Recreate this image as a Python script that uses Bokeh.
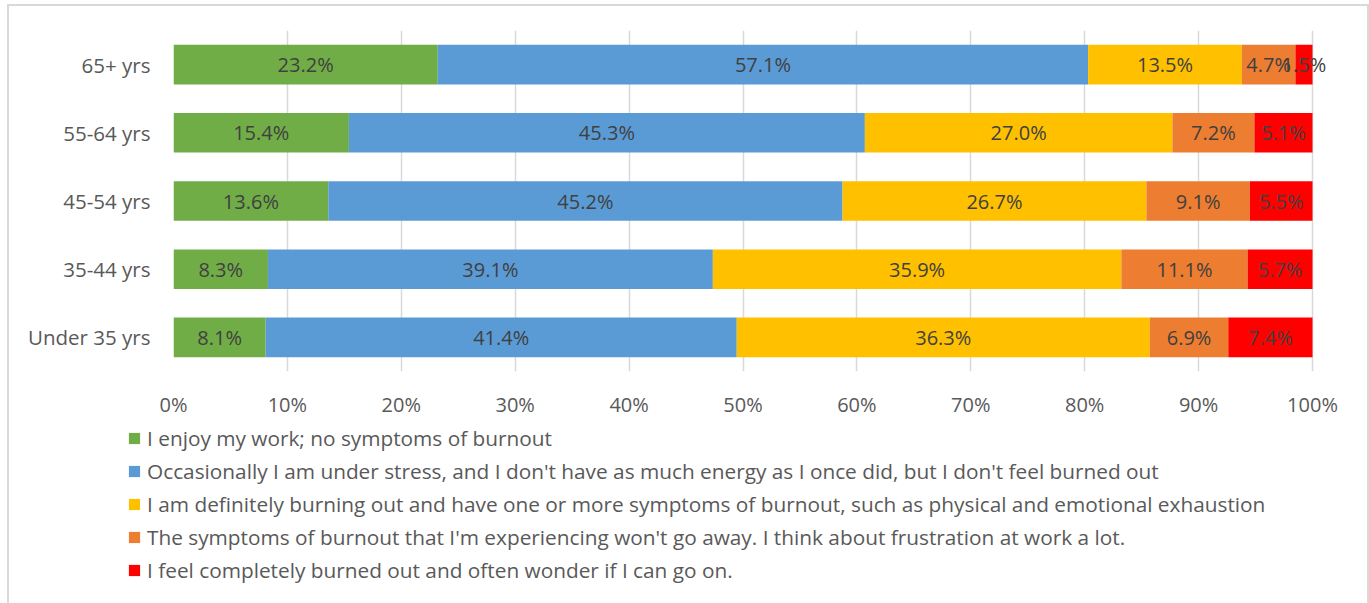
from bokeh.plotting import figure
from bokeh.layouts import column
from bokeh.models import (ColumnDataSource, FactorRange, Range1d, FixedTicker,
                          Legend, LegendItem, PrintfTickFormatter)
from bokeh.core.properties import value
from bokeh.embed import file_html
from bokeh.resources import INLINE

categories = ["Under 35 yrs", "35-44 yrs", "45-54 yrs", "55-64 yrs", "65+ yrs"]
series_names = [
    "I enjoy my work; no symptoms of burnout",
    "Occasionally I am under stress, and I don't have as much energy as I once did, but I don't feel burned out",
    "I am definitely burning out and have one or more symptoms of burnout, such as physical and emotional exhaustion",
    "The symptoms of burnout that I'm experiencing won't go away. I think about frustration at work a lot.",
    "I feel completely burned out and often wonder if I can go on.",
]
enjoy = [8.1, 8.3, 13.6, 15.4, 23.2]
occasional = [41.4, 39.1, 45.2, 45.3, 57.1]
definitely = [36.3, 35.9, 26.7, 27.0, 13.5]
persistent = [6.9, 11.1, 9.1, 7.2, 4.7]
completely = [7.4, 5.7, 5.5, 5.1, 1.5]
x_ticks = [0, 10, 20, 30, 40, 50, 60, 70, 80, 90, 100]

series = [enjoy, occasional, definitely, persistent, completely]
keys = ["s0", "s1", "s2", "s3", "s4"]
colors = ["#70AD47", "#5B9BD5", "#FFC000", "#ED7D31", "#FF0000"]

FONT = "Open Sans"
FS = "20px"
W = 1358
H1, H2 = 414, 183
LEFT, RIGHT, TOP, BOTTOM = 164, 27, 24, 42
frame_w = W - LEFT - RIGHT
x_end = 100.0 * frame_w / (1312 - 173)

totals = [sum(s[i] for s in series) for i in range(len(categories))]
data = {"cat": categories}
for k, s in zip(keys, series):
    data[k] = [v / t * 100 for v, t in zip(s, totals)]
source = ColumnDataSource(data)

p = figure(width=W, height=H1, y_range=FactorRange(*categories),
           x_range=Range1d(0, x_end), output_backend="svg",
           toolbar_location=None, min_border_left=LEFT, min_border_right=RIGHT,
           min_border_top=TOP, min_border_bottom=BOTTOM)
p.outline_line_color = None
p.background_fill_color = "white"
p.border_fill_color = "white"

p.hbar_stack(keys, y="cat", height=0.58, color=colors, line_color=None, source=source)

# data labels
lx, ly, lt = [], [], []
for i, c in enumerate(categories):
    cum = 0.0
    for k, s in zip(keys, series):
        w = data[k][i]
        lx.append(cum + w / 2)
        ly.append(c)
        lt.append("%.1f%%" % s[i])
        cum += w
p.text(x=lx, y=ly, text=lt, text_align="center", text_baseline="middle",
       text_font=value(FONT), text_font_size=FS, text_color="#404040")

p.xaxis.ticker = FixedTicker(ticks=x_ticks)
p.xaxis.formatter = PrintfTickFormatter(format="%d%%")
p.xaxis.axis_line_color = None
p.xaxis.major_tick_line_color = None
p.xaxis.minor_tick_line_color = None
p.xaxis.major_label_standoff = 13
p.xaxis.major_label_text_font = FONT
p.xaxis.major_label_text_font_size = FS
p.xaxis.major_label_text_color = "#595959"

p.yaxis.axis_line_color = None
p.yaxis.major_tick_line_color = None
p.yaxis.minor_tick_line_color = None
p.yaxis.major_label_standoff = 17
p.yaxis.major_label_text_font = FONT
p.yaxis.major_label_text_font_size = "20.5px"
p.yaxis.major_label_text_color = "#595959"

p.xgrid.grid_line_color = "#D9D9D9"
p.xgrid.grid_line_width = 1.5
p.ygrid.grid_line_color = None

# legend panel: same series (zero-height bars, out of view) so only the legend shows
p2 = figure(width=W, height=H2, y_range=FactorRange(*categories),
            x_range=Range1d(-200, -100), output_backend="svg",
            toolbar_location=None, x_axis_location=None, y_axis_location=None,
            min_border=0)
p2.outline_line_color = None
p2.grid.grid_line_color = None
p2.border_fill_color = "white"
leg_r = p2.hbar_stack(keys, y="cat", height=0, color=colors, line_color=None, source=source)

if "frame_align" in p.properties():
    p.frame_align = False
    p2.frame_align = False

items = [LegendItem(label=n, renderers=[r]) for n, r in zip(series_names, leg_r)]
legend = Legend(items=items, location=(118, 19), orientation="vertical",
                glyph_width=14, glyph_height=14, label_standoff=6,
                label_height=28, spacing=5, padding=0, margin=0,
                label_text_font=FONT, label_text_font_size="20.8px",
                label_text_color="#595959", background_fill_alpha=0,
                border_line_color=None)
p2.add_layout(legend, "center")

layout = column(p, p2, spacing=0,
                styles={"margin-left": "7px", "margin-top": "4px",
                        "border-left": "2px solid #D9D9D9",
                        "border-top": "2px solid #D9D9D9",
                        "border-right": "2px solid #D9D9D9"})

open("out.html", "w").write(file_html(layout, INLINE))
